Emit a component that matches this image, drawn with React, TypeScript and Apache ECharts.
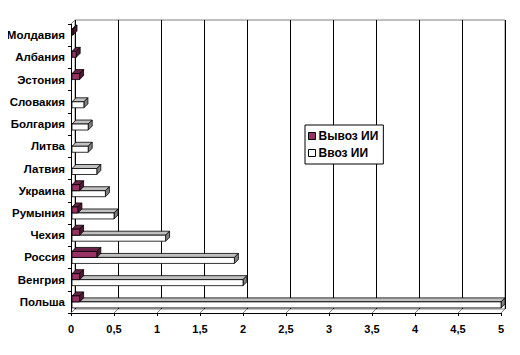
import React, { useEffect, useRef } from "react";
import * as echarts from "echarts";

const categories = ["Молдавия", "Албания", "Эстония", "Словакия", "Болгария", "Литва", "Латвия", "Украина", "Румыния", "Чехия", "Россия", "Венгрия", "Польша"];
const exportVals = [0.02, 0.06, 0.1, 0, 0, 0, 0, 0.1, 0.08, 0.1, 0.3, 0.1, 0.1];
const importVals = [0, 0, 0, 0.15, 0.2, 0.2, 0.3, 0.4, 0.5, 1.1, 1.9, 2.0, 5.0];
const ticks = [0, 0.5, 1, 1.5, 2, 2.5, 3, 3.5, 4, 4.5, 5];

const FONT = "'Liberation Sans', Arial, sans-serif";
const D = 4;
const H = 6;

function makeBar(upper: boolean, front: string, topC: string, sideC: string) {
  return (params: any, api: any) => {
    const v = api.value(0);
    const cat = api.value(1);
    if (!(v > 0)) return null;
    const p0 = api.coord([0, cat]);
    const p1 = api.coord([v, cat]);
    const x0 = p0[0] + 1;
    const x1 = Math.max(p1[0], x0 + 1);
    const top = upper ? p0[1] - H : p0[1];
    const st = { stroke: "#000", lineWidth: 0.8 };
    return {
      type: "group",
      children: [
        { type: "polygon", shape: { points: [[x0, top], [x1, top], [x1 + D, top - D], [x0 + D, top - D]] }, style: { ...st, fill: topC } },
        { type: "polygon", shape: { points: [[x1, top], [x1 + D, top - D], [x1 + D, top + H - D], [x1, top + H]] }, style: { ...st, fill: sideC } },
        { type: "rect", shape: { x: x0, y: top, width: x1 - x0, height: H }, style: { ...st, fill: front } },
      ],
    };
  };
}

export default function App() {
  const ref = useRef<HTMLDivElement>(null);
  useEffect(() => {
    if (!ref.current) return;
    const chart = echarts.init(ref.current, null, { renderer: "svg" });
    const textStyle = { fontFamily: FONT, fontSize: 11, fontWeight: "bold" as const, color: "#000" };
    chart.setOption({
      animation: false,
      backgroundColor: "#fff",
      textStyle: { fontFamily: FONT },
      grid: [
        { left: 71, right: 19, top: 24, bottom: 42, containLabel: false },
        { left: 75, right: 15, top: 20, bottom: 46, show: true, borderColor: "#808080", borderWidth: 1, backgroundColor: "transparent" },
      ],
      legend: {
        orient: "vertical",
        left: 305,
        top: 125,
        padding: [5, 5, 5, 3],
        itemGap: 5,
        itemWidth: 7,
        itemHeight: 7,
        backgroundColor: "#fff",
        borderColor: "#000",
        borderWidth: 1,
        borderRadius: 0,
        textStyle: { ...textStyle, fontSize: 12, padding: [0, 0, 0, -2] },
        data: [
          { name: "Вывоз ИИ", icon: "rect", itemStyle: { color: "#993366", borderColor: "#000", borderWidth: 1 } },
          { name: "Ввоз ИИ", icon: "rect", itemStyle: { color: "#fff", borderColor: "#000", borderWidth: 1 } },
        ],
      },
      xAxis: [
        {
          type: "value", gridIndex: 0, min: 0, max: 5, interval: 0.5,
          axisLine: { show: true, lineStyle: { color: "#000", width: 1 } },
          axisTick: { show: true, length: 3, lineStyle: { color: "#000" } },
          splitLine: { show: false },
          axisLabel: { ...textStyle, margin: 10, formatter: (v: number) => String(v).replace(".", ",") },
        },
        {
          type: "value", gridIndex: 1, min: 0, max: 5, interval: 0.5,
          axisLine: { show: false }, axisTick: { show: false }, axisLabel: { show: false },
          splitLine: { show: true, lineStyle: { color: "#000", width: 1 } },
        },
      ],
      yAxis: [
        {
          type: "category", gridIndex: 0, data: categories, inverse: true,
          axisLine: { show: true, lineStyle: { color: "#000", width: 1 } },
          axisTick: { show: true, length: 3, lineStyle: { color: "#000" } },
          axisLabel: { ...textStyle, fontSize: 11.5, margin: 6 },
          splitLine: { show: false },
        },
        {
          type: "value", gridIndex: 1, show: false, splitLine: { show: false },
        },
      ],
      series: [
        {
          type: "custom", name: "floor", xAxisIndex: 0, yAxisIndex: 0, silent: true, z: 1,
          data: ticks.map((t) => [t, 0]),
          renderItem: (params: any, api: any) => {
            const cs = params.coordSys;
            const x = api.coord([api.value(0), 0])[0];
            const b = cs.y + cs.height;
            const children: any[] = [
              { type: "line", shape: { x1: x, y1: b, x2: x + D, y2: b - D }, style: { stroke: "#808080", lineWidth: 1 } },
            ];
            if (params.dataIndex === 0) {
              children.push({ type: "line", shape: { x1: cs.x, y1: cs.y, x2: cs.x + D, y2: cs.y - D }, style: { stroke: "#808080", lineWidth: 1 } });
            }
            return { type: "group", children };
          },
        },
        {
          type: "custom", name: "Ввоз ИИ", xAxisIndex: 0, yAxisIndex: 0, z: 3,
          itemStyle: { color: "#fff", borderColor: "#000" },
          encode: { x: 0, y: 1 },
          data: importVals.map((v, i) => [v, i]),
          renderItem: makeBar(false, "#ffffff", "#c0c0c0", "#808080"),
        },
        {
          type: "custom", name: "Вывоз ИИ", xAxisIndex: 0, yAxisIndex: 0, z: 4,
          itemStyle: { color: "#993366", borderColor: "#000" },
          encode: { x: 0, y: 1 },
          data: exportVals.map((v, i) => [v, i]),
          renderItem: makeBar(true, "#993366", "#6b2248", "#4d1833"),
        },
      ],
    });
    return () => chart.dispose();
  }, []);
  return <div ref={ref} style={{ width: 520, height: 355, margin: -8 }} />;
}
